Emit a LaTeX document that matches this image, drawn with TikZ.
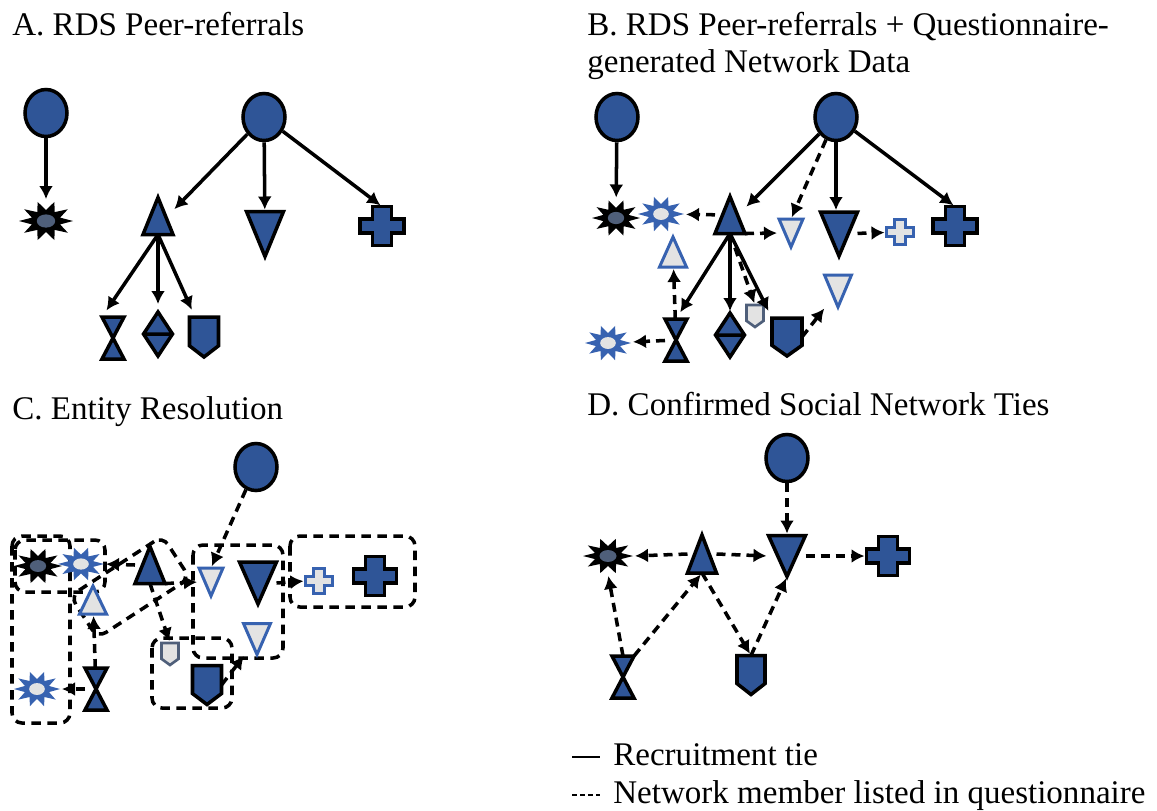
\documentclass[tikz,border=0pt]{standalone}
\usepackage{fontspec}
\setmainfont{Liberation Serif}
\usetikzlibrary{arrows.meta,shapes.geometric,calc}
\definecolor{mkblue}{HTML}{2F5597}
\definecolor{qblue}{HTML}{3762B0}
\definecolor{lgrey}{HTML}{E3E3E3}
\definecolor{slate}{HTML}{4F5F7A}
% markers: name, centre, width, height, style
\newcommand\utri[5]{\node[mk,minimum width=#3*0.2mm,minimum height=#4*0.2mm] (#1) at (#2) {};
\draw[#5] (#1.north)--(#1.south east)--(#1.south west)--cycle;}
\newcommand\dtri[5]{\node[mk,minimum width=#3*0.2mm,minimum height=#4*0.2mm] (#1) at (#2) {};
\draw[#5] (#1.south)--(#1.north east)--(#1.north west)--cycle;}
\newcommand\shieldmk[5]{\node[mk,minimum width=#3*0.2mm,minimum height=#4*0.2mm] (#1) at (#2) {};
\draw[#5] (#1.north west)--(#1.north east)--($(#1.north east)!0.72!(#1.south east)$)--(#1.south)--($(#1.north west)!0.72!(#1.south west)$)--cycle;}
\newcommand\crossmk[5]{\node[mk,minimum width=#3*0.2mm,minimum height=#4*0.2mm] (#1) at (#2) {};
\draw[#5,shift={(#1)}] (-0.22*#3,-0.5*#4)--(0.22*#3,-0.5*#4)--(0.22*#3,-0.18*#4)--(0.5*#3,-0.18*#4)--(0.5*#3,0.18*#4)--(0.22*#3,0.18*#4)--(0.22*#3,0.5*#4)--(-0.22*#3,0.5*#4)--(-0.22*#3,0.18*#4)--(-0.5*#3,0.18*#4)--(-0.5*#3,-0.18*#4)--(-0.22*#3,-0.18*#4)--cycle;}
\newcommand\hglass[2]{\node[mk,minimum width=22*0.2mm,minimum height=42*0.2mm] (#1) at (#2) {};
\draw[dk] (#1.north west)--(#1.north east)--(#1.center)--(#1.south east)--(#1.south west)--(#1.center)--cycle;}
\newcommand\dsplit[2]{\node[mk,minimum width=29*0.2mm,minimum height=44*0.2mm] (#1) at (#2) {};
\draw[dk] (#1.north)--(#1.east)--(#1.south)--(#1.west)--cycle (#1.west)--(#1.east);}
% star: name, centre, x radius, y radius, fill, core
\newcommand\starmk[6]{\node[mk,minimum width=2*#3*0.2mm,minimum height=2*#4*0.2mm] (#1) at (#2) {};
\fill[#5,shift={(#1)},xscale=#3/#4] (0:#4) \foreach \k in {0,...,9}{--({\k*36+18}:0.55*#4)--({\k*36+36}:#4)}--cycle;
\fill[#6] (#1) ellipse (0.34*#3 and 0.33*#4);}

\begin{document}
\begin{tikzpicture}[x=0.2mm,y=-0.2mm,font=\fontsize{18.8}{21}\selectfont,
  mk/.style={rectangle,draw=none,inner sep=0pt,outer sep=0pt},
  dk/.style={draw=black,fill=mkblue,line width=2pt},
  lt/.style={draw=qblue,fill=lgrey,line width=1.7pt},
  ltg/.style={draw=slate,fill=lgrey,line width=1.5pt},
  root/.style={ellipse,draw=black,fill=mkblue,line width=2pt,inner sep=0pt,minimum width=42*0.2mm,minimum height=47*0.2mm},
  rec/.style={-{Latex[length=2.6mm,width=2.8mm]},line width=2pt,shorten >=0.4mm},
  kid/.style={shorten >=1.6mm},
  lst/.style={rec,dash pattern=on 1.8mm off 1.2mm},
  grp/.style={line width=2pt,dash pattern=on 1.9mm off 1.3mm,rounded corners=2mm},
  title/.style={anchor=base west,inner sep=0pt}]
\path[use as bounding box,fill=white] (0,0) rectangle (1157,810);

\node[title] (tA) at (12,35) {A. RDS Peer-referrals};
\node[title] (tB) at (587,35) {B. RDS Peer-referrals + Questionnaire-};
\node[title] (tB2) at (587,72) {generated Network Data};
\node[title] (tC) at (12,419) {C. Entity Resolution};
\node[title] (tD) at (587,415) {D. Confirmed Social Network Ties};

% A
\node[root] (aRootL) at (46,113) {};
\node[root] (aRootR) at (264,117) {};
\starmk{aStar}{46,221}{27}{20}{black}{slate}
\utri{aTri}{158,216}{30}{37}{dk}
\dtri{aDTri}{265,234}{37}{45}{dk}
\crossmk{aCross}{382,226}{44}{39}{dk}
\hglass{aHour}{113,338}
\dsplit{aDia}{158,334}
\shieldmk{aShield}{204,337}{29}{40}{dk}
\draw[rec] (aRootL)--(aStar);
\draw[rec] (aRootR)--(aTri.20);
\draw[rec] (aRootR)--(aDTri);
\draw[rec] (aRootR)--(aCross.north);
\draw[rec,kid] (aTri.south)--(aHour.north west);
\draw[rec,kid] (aTri.south)--(aDia);
\draw[rec,kid] (aTri.south)--(aShield);

% B
\node[root] (bRootL) at (617,117) {};
\node[root] (bRootR) at (836,117) {};
\starmk{bStar}{616,218}{24}{18.5}{black}{slate}
\starmk{bQStar}{661,214}{23}{18}{qblue}{lgrey}
\utri{bTri}{730,215}{30}{37}{dk}
\dtri{bQDTri}{791,233}{24}{28}{lt}
\dtri{bDTri}{839,234}{37}{44}{dk}
\crossmk{bQCross}{900,232}{27}{25}{lt}
\crossmk{bCross}{955,226}{44}{39}{dk}
\utri{bQTri}{673,252}{27}{30}{lt}
\dtri{bQDTri2}{838,291}{27}{32}{lt}
\hglass{bHour}{676,340}
\starmk{bQStar2}{608,343}{23}{18}{qblue}{lgrey}
\dsplit{bDia}{730,335}
\shieldmk{bQShield}{755,316}{17}{22}{ltg}
\shieldmk{bShield}{787,337}{30}{38}{dk}
\draw[rec] (bRootL)--(bStar);
\draw[rec] (bRootR)--(bTri.25);
\draw[rec] (bRootR)--(bRootR.south|-bDTri.north);
\draw[rec] (bRootR)--(bCross.north);
\draw[rec,kid] (bTri.south)--(bHour.north);
\draw[rec] (bTri.south)--(bDia);
\draw[rec,kid] (bTri.south)--(bShield.north west);
\draw[lst] (bRootR)--(bQDTri.north);
\draw[lst] (bTri)--(bQStar);
\draw[lst] (bTri.south east)--(bQDTri.west);
\draw[lst] (bDTri)--(bQCross);
\draw[lst] (bTri.south)--(bQShield.north);
\draw[lst] (bHour)--(bQTri);
\draw[lst] (bHour)--(bQStar2);
\draw[lst] (bShield.east)--(bQDTri2);

% C
\draw[grp] (12,536) rectangle (70,723);
\draw[grp] (15,540) rectangle (105,592);
\node[mk,grp,draw,rotate=33,minimum width=110*0.2mm,minimum height=50*0.2mm] (cTriGrp) at (130,587) {};
\draw[grp] (193,545) rectangle (283,658);
\draw[grp] (290,536) rectangle (415,607);
\draw[grp] (152,638) rectangle (232,708);
\node[root] (cRoot) at (256,467) {};
\starmk{cStar}{38,566}{24}{18}{black}{slate}
\starmk{cQStar}{81,564}{23}{17}{qblue}{lgrey}
\utri{cTri}{150,565}{30}{37}{dk}
\dtri{cQDTri}{211,582}{24}{28}{lt}
\dtri{cDTri}{258,583}{37}{42}{dk}
\crossmk{cQCross}{319,581}{27}{25}{lt}
\crossmk{cCross}{375,576}{43}{39}{dk}
\utri{cQTri}{93,600}{27}{28}{lt}
\dtri{cQDTri2}{257,639}{27}{31}{lt}
\shieldmk{cQShield}{170,654}{17}{22}{ltg}
\shieldmk{cShield}{207,685}{29}{39}{dk}
\starmk{cQStar2}{37,689}{23}{18}{qblue}{lgrey}
\hglass{cHour}{96,689}
\draw[lst] (cRoot)--(cQDTri.north);
\draw[lst] (cTri.west)--(cQStar.east);
\draw[lst] (cTri.south east)--(cQDTri.west);
\draw[lst] (cDTri.east)--(cQCross.west);
\draw[lst] (cTri.south)--(cQShield.north);
\draw[lst] (cHour)--(cQTri);
\draw[lst] (cHour)--(cQStar2);
\draw[lst] (cShield.east)--(cQDTri2);

% D
\node[root] (dRoot) at (787,458) {};
\starmk{dStar}{608,556}{25}{18}{black}{slate}
\utri{dTri}{702,554}{29}{38}{dk}
\dtri{dDTri}{787,556}{37}{41}{dk}
\crossmk{dCross}{888,556}{43}{39}{dk}
\hglass{dHour}{623,677}
\shieldmk{dShield}{751,675}{28}{39}{dk}
\draw[lst] (dRoot)--(dDTri);
\draw[lst] (dTri.west)--(dStar.east);
\draw[lst] (dTri.east)--(dDTri.west);
\draw[lst] (dDTri)--(dCross);
\draw[lst] (dHour.north)--(dStar.south);
\draw[lst] (dHour.north east)--(dTri.south);
\draw[lst] (dTri.south)--(dShield.north);
\draw[lst] (dShield.north)--(dDTri.south);

\node[title] (lgRec) at (613,765) {Recruitment tie};
\node[title] (lgNet) at (613,803) {Network member listed in questionnaire};
\draw[line width=0.8pt] ([shift={(-41,-8)}]lgRec.base west)--++(28,0);
\draw[line width=0.8pt,dash pattern=on 1mm off 0.6mm] ([shift={(-41,-8)}]lgNet.base west)--++(28,0);
\end{tikzpicture}
\end{document}
